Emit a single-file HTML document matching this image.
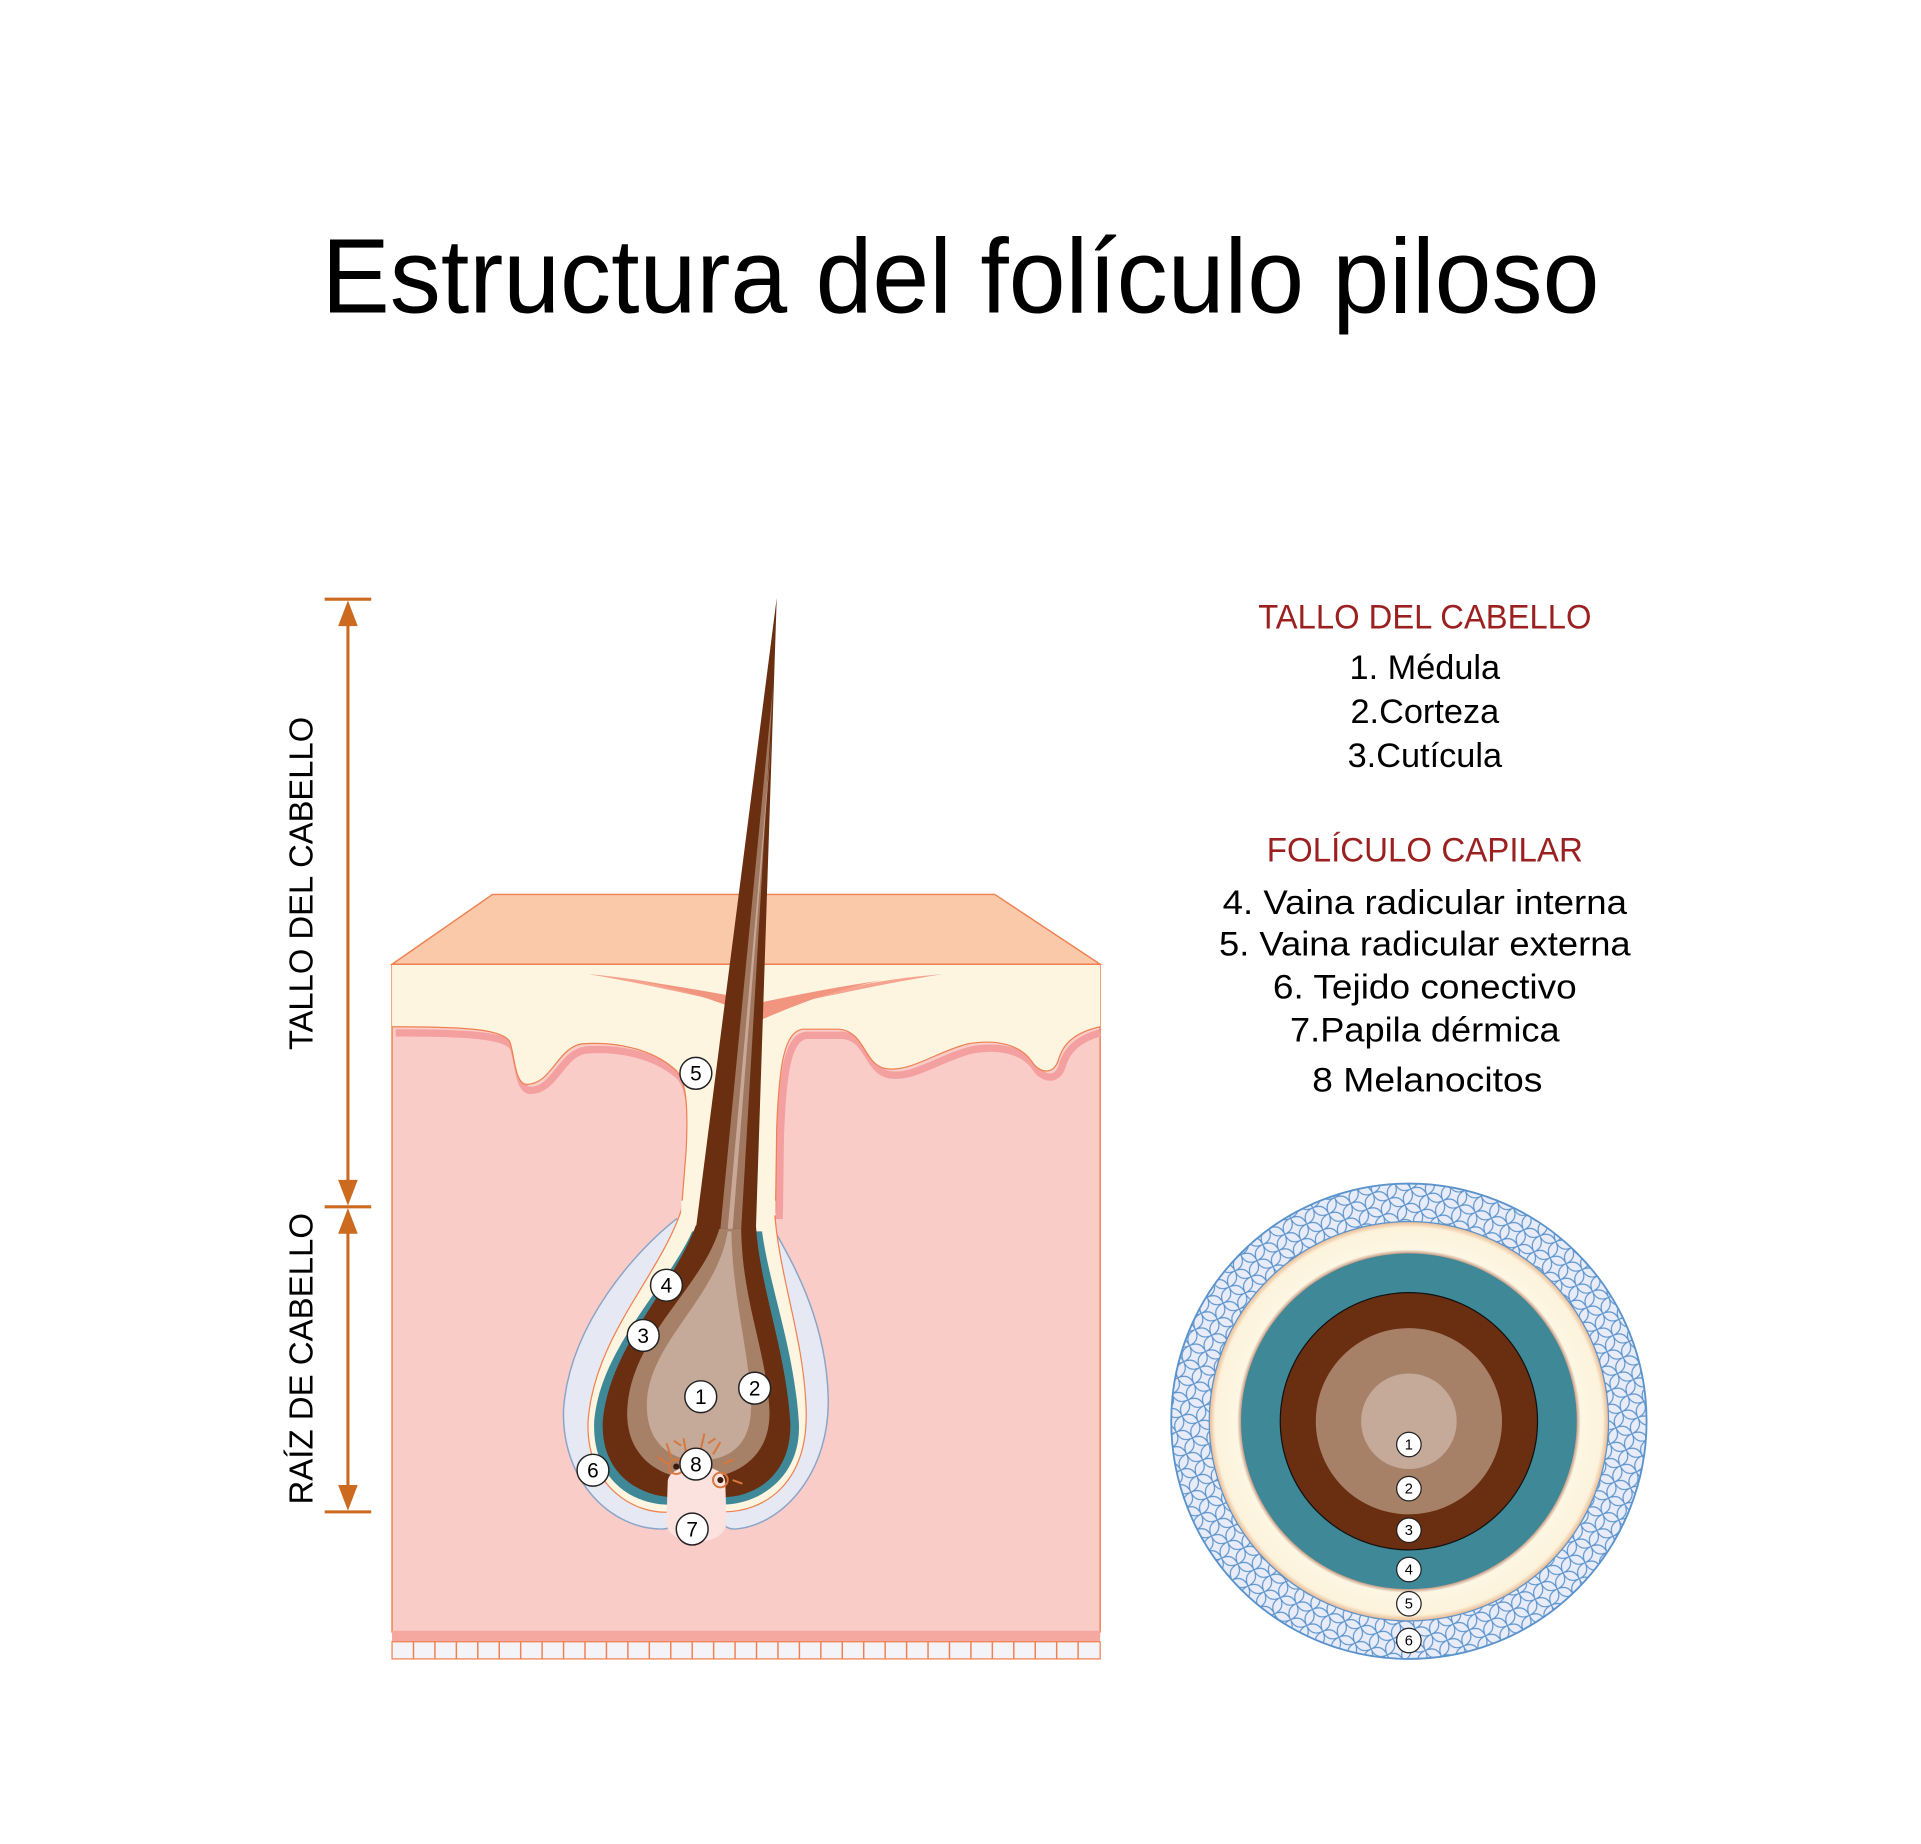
<!DOCTYPE html>
<html><head><meta charset="utf-8">
<style>html,body{margin:0;padding:0;background:#fff;}svg{display:block;}</style>
</head><body>
<svg width="1921" height="1844" viewBox="0 0 1568 1505" xmlns="http://www.w3.org/2000/svg" font-family="Liberation Sans, sans-serif">
<defs>
<pattern id="mesh" width="14" height="14" patternUnits="userSpaceOnUse" patternTransform="rotate(20)">
<rect width="14" height="14" fill="#e8ecf8"/>
<path d="M0,0 Q7,7 14,0 M0,14 Q7,7 14,14 M0,0 Q7,7 0,14 M14,0 Q7,7 14,14" fill="none" stroke="#5b93cc" stroke-width="0.9"/>
</pattern>
<radialGradient id="cream" cx="0.5" cy="0.5" r="0.5">
<stop offset="0.82" stop-color="#8a3a20"/><stop offset="0.86" stop-color="#fdf6e2"/><stop offset="0.97" stop-color="#fdf3dc"/><stop offset="1" stop-color="#e8b890"/>
</radialGradient>
</defs>
<rect width="1568" height="1505" fill="#fff"/>
<text x="784" y="255" font-size="86" text-anchor="middle" textLength="1043" lengthAdjust="spacingAndGlyphs" fill="#000">Estructura del folículo piloso</text>

<!-- left arrows -->
<g stroke="#cc6a1f" stroke-width="2.5" fill="#cc6a1f">
<line x1="265" y1="489" x2="303" y2="489"/>
<line x1="265" y1="985" x2="303" y2="985"/>
<line x1="265" y1="1234" x2="303" y2="1234"/>
<line x1="284" y1="500" x2="284" y2="975"/>
<line x1="284" y1="995" x2="284" y2="1225"/>
<path d="M284,490 L276,511 L292,511 Z" stroke="none"/>
<path d="M284,984 L276,963 L292,963 Z" stroke="none"/>
<path d="M284,986 L276,1007 L292,1007 Z" stroke="none"/>
<path d="M284,1233 L276,1212 L292,1212 Z" stroke="none"/>
</g>
<text transform="translate(255,721) rotate(-90)" font-size="27" text-anchor="middle" textLength="272" lengthAdjust="spacingAndGlyphs">TALLO DEL CABELLO</text>
<text transform="translate(255,1109) rotate(-90)" font-size="27" text-anchor="middle" textLength="238" lengthAdjust="spacingAndGlyphs">RAÍZ DE CABELLO</text>

<!-- skin block -->
<rect x="320" y="787" width="578" height="545" fill="#f9ccc8" stroke="#f08050" stroke-width="1.2"/>
<rect x="320" y="1331" width="578" height="9" fill="#f4a8a0"/>
<rect x="320" y="1340" width="578" height="14" fill="#f3f3f8" stroke="#f08050" stroke-width="1"/>
<g stroke="#f08050" stroke-width="1.2">
<path d="M337.5,1340v14M355,1340v14M372.5,1340v14M390,1340v14M407.5,1340v14M425,1340v14M442.5,1340v14M460,1340v14M477.5,1340v14M495,1340v14M512.5,1340v14M530,1340v14M547.5,1340v14M565,1340v14M582.5,1340v14M600,1340v14M617.5,1340v14M635,1340v14M652.5,1340v14M670,1340v14M687.5,1340v14M705,1340v14M722.5,1340v14M740,1340v14M757.5,1340v14M775,1340v14M792.5,1340v14M810,1340v14M827.5,1340v14M845,1340v14M862.5,1340v14M880,1340v14"/>
</g>
<polygon points="320,787 402,730 812,730 898,787" fill="#f9c9aa" stroke="#f08050" stroke-width="1.2"/>

<!-- epidermis shadow (open paths) -->
<g fill="none" stroke="#f4a0a0" stroke-width="6" transform="translate(3,5)">
<path d="M320,838 C380,838 410,840 416,850 C420,860 420,885 430,885 C450,885 455,855 475,852 C500,850 530,855 550,872 C560,880 562,900 560,940 L556,990"/>
<path d="M633,990 L634,920 C636,870 640,842 655,840 L685,840 C706,842 705,868 722,872 C742,876 765,858 790,852 C812,848 832,852 842,866 C848,876 860,878 864,865 C868,850 880,842 895,838"/>
</g>
<!-- epidermis -->
<path d="M320,787 L898,787 L898,838 C880,842 868,850 864,865 C860,878 848,876 842,866 C832,852 812,848 790,852 C765,858 742,876 722,872 C705,868 706,842 685,840 L655,840 C640,842 636,870 634,920 L632,1010 L555,1010 L560,940 C562,900 560,880 550,872 C530,855 500,850 475,852 C455,855 450,885 430,885 C420,885 420,860 416,850 C410,840 380,838 320,838 Z" fill="#fdf5e0"/>
<g fill="none" stroke="#f08050" stroke-width="1">
<path d="M320,838 C380,838 410,840 416,850 C420,860 420,885 430,885 C450,885 455,855 475,852 C500,850 530,855 550,872 C560,880 562,900 560,940 L556,990"/>
<path d="M633,990 L634,920 C636,870 640,842 655,840 L685,840 C706,842 705,868 722,872 C742,876 765,858 790,852 C812,848 832,852 842,866 C848,876 860,878 864,865 C868,850 880,842 898,838"/>
</g>
<path d="M320,787 L898,787" stroke="#f08050" stroke-width="1.2"/>
<path d="M480,795 C540,800 585,812 622,832 C660,812 705,800 770,795 C705,805 660,818 622,822 C585,818 540,805 480,795 Z" fill="#f4a490"/>
<path d="M520,800 C560,808 595,820 622,832 C650,820 680,808 720,800 C680,806 650,812 622,818 C595,812 560,806 520,800 Z" fill="#f2957e"/>

<!-- follicle bulb -->
<path d="M552,995 C520,1020 465,1080 460,1150 C458,1210 500,1248 540,1248 C555,1248 548,1235 560,1232 L580,1232 C592,1235 585,1248 600,1248 C640,1245 678,1200 676,1140 C674,1070 640,1020 630,1000 Z" fill="#e6e8f4" stroke="#8aa4c8" stroke-width="1.2"/>
<path d="M557,985 C540,1040 485,1090 480,1160 C478,1215 520,1237 548,1234 L590,1234 C625,1234 660,1210 658,1150 C656,1090 635,1040 632,985" fill="#fdf5e0" stroke="#f08050" stroke-width="1"/>
<rect x="556" y="980" width="77" height="12" fill="#fdf5e0"/>
<path d="M565,1005 C545,1050 490,1100 485,1160 C483,1210 520,1230 550,1228 L590,1228 C620,1228 655,1205 652,1160 C648,1100 628,1050 622,1005 Z" fill="#3f8898"/>
<path d="M568,1000 C550,1050 497,1100 492,1160 C490,1205 525,1222 550,1222 L590,1222 C618,1222 647,1202 645,1160 C641,1100 620,1050 617,1000 Z" fill="#6a2e10"/>
<path d="M588,1000 C575,1050 515,1090 512,1150 C510,1190 540,1207 568,1207 C600,1207 630,1190 628,1150 C625,1100 605,1060 605,1000 Z" fill="#a78068"/>
<path d="M594,1005 C585,1060 530,1095 528,1145 C527,1180 550,1192 570,1192 C600,1192 614,1175 613,1145 C611,1100 598,1060 597,1005 Z" fill="#c5a999"/>
<!-- shaft -->
<path d="M634,488 L617,1003 L568,1003 Z" fill="#6a2e10"/>
<path d="M631,560 L605,1003 L588,1003 Z" fill="#a07860"/>
<path d="M630,600 L598,1003 L594,1003 Z" fill="#c9a898"/>
<!-- papilla -->
<path d="M545,1210 C545,1192 592,1192 592,1210 L593,1242 C593,1264 544,1264 544,1242 Z" fill="#fbe2de"/>
<g stroke="#d9763a" stroke-width="1.6" fill="none">
<path d="M545,1195 l-8,-6 M548,1190 l-4,-12 M560,1186 l-2,-12 M572,1183 l3,-13 M582,1187 l6,-10 M590,1195 l9,-4 M598,1208 l8,3 M556,1180 l-6,-4 M578,1178 l6,-4"/>
<circle cx="552" cy="1197" r="6"/><circle cx="588" cy="1208" r="6"/>
</g>
<circle cx="552" cy="1197" r="2.5" fill="#3a1a0a"/><circle cx="588" cy="1208" r="2.5" fill="#3a1a0a"/>

<!-- labels -->
<g font-size="17" text-anchor="middle">
<g fill="#fff" stroke="#222" stroke-width="1.2">
<circle cx="568" cy="876" r="13"/><circle cx="544" cy="1049" r="13"/><circle cx="525" cy="1090" r="13"/>
<circle cx="572" cy="1140" r="13"/><circle cx="616" cy="1133" r="13"/><circle cx="568" cy="1195" r="13"/>
<circle cx="484" cy="1200" r="13"/><circle cx="565" cy="1248" r="13"/>
</g>
<text x="568" y="882">5</text><text x="544" y="1055">4</text><text x="525" y="1096">3</text>
<text x="572" y="1146">1</text><text x="616" y="1139">2</text><text x="568" y="1201">8</text>
<text x="484" y="1206">6</text><text x="565" y="1254">7</text>
</g>

<!-- right text -->
<g text-anchor="middle" font-size="28">
<text x="1163" y="513" fill="#9b2020" textLength="272" lengthAdjust="spacingAndGlyphs">TALLO DEL CABELLO</text>
<text x="1163" y="554">1. Médula</text>
<text x="1163" y="590">2.Corteza</text>
<text x="1163" y="626">3.Cutícula</text>
<text x="1163" y="703" fill="#9b2020" textLength="258" lengthAdjust="spacingAndGlyphs">FOLÍCULO CAPILAR</text>
<text x="1163" y="746" textLength="330" lengthAdjust="spacingAndGlyphs">4. Vaina radicular interna</text>
<text x="1163" y="780" textLength="336" lengthAdjust="spacingAndGlyphs">5. Vaina radicular externa</text>
<text x="1163" y="815" textLength="248" lengthAdjust="spacingAndGlyphs">6. Tejido conectivo</text>
<text x="1163" y="850" textLength="220" lengthAdjust="spacingAndGlyphs">7.Papila dérmica</text>
<text x="1165" y="891" textLength="188" lengthAdjust="spacingAndGlyphs">8 Melanocitos</text>
</g>

<!-- cross section -->
<circle cx="1150" cy="1160" r="194" fill="url(#mesh)" stroke="#5b93cc" stroke-width="1.5"/>
<circle cx="1150" cy="1160" r="163" fill="url(#cream)" stroke="#5b93cc" stroke-width="1"/>
<circle cx="1150" cy="1160" r="137" fill="#3f8898"/>
<circle cx="1150" cy="1160" r="105" fill="#6a2e10" stroke="#111" stroke-width="1"/>
<circle cx="1150" cy="1160" r="76" fill="#a78068"/>
<circle cx="1150" cy="1160" r="39" fill="#c5a999"/>
<g font-size="12" text-anchor="middle">
<g fill="#fff" stroke="#222" stroke-width="1">
<circle cx="1150" cy="1179" r="10"/><circle cx="1150" cy="1215" r="10"/><circle cx="1150" cy="1249" r="10"/>
<circle cx="1150" cy="1281" r="10"/><circle cx="1150" cy="1309" r="10"/><circle cx="1150" cy="1339" r="10"/>
</g>
<text x="1150" y="1183">1</text><text x="1150" y="1219">2</text><text x="1150" y="1253">3</text>
<text x="1150" y="1285">4</text><text x="1150" y="1313">5</text><text x="1150" y="1343">6</text>
</g>
</svg>
</body></html>
